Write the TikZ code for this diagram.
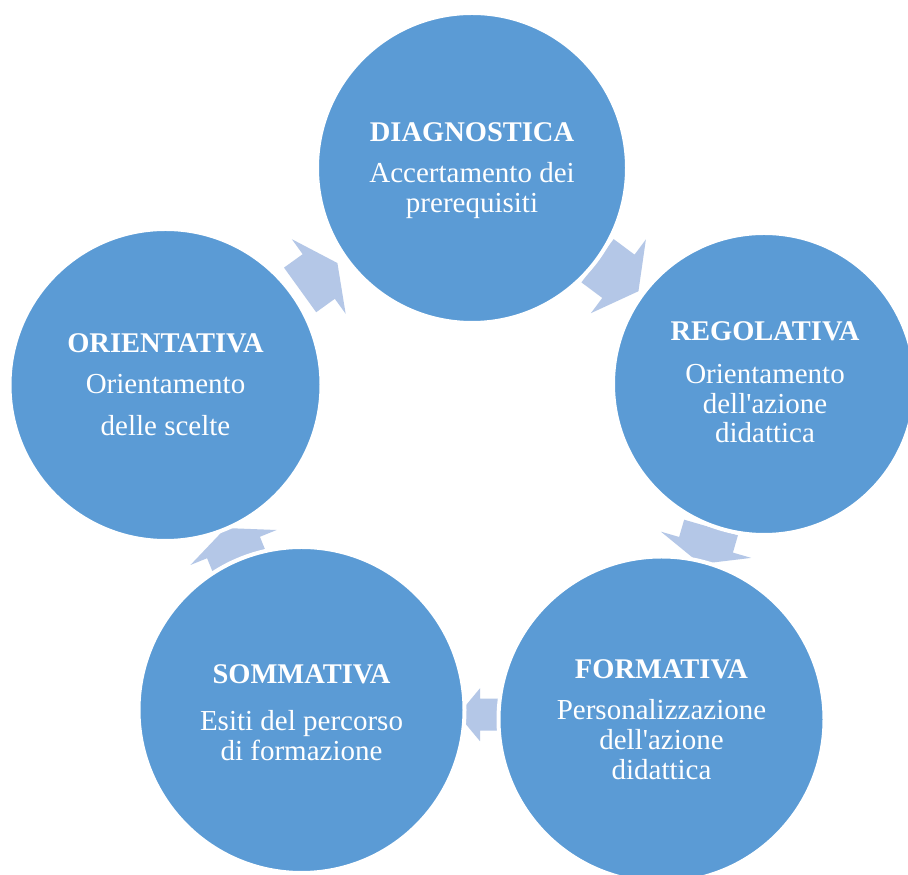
\documentclass[tikz,border=0pt]{standalone}
\usepackage{fontspec}
\setmainfont{Liberation Serif}[Ligatures=TeXOff]
\usetikzlibrary{calc}
\definecolor{bubblue}{HTML}{5B9BD5}
\definecolor{arrowblue}{HTML}{B4C7E7}
% #1 centre coordinate, #2 angle, #3 total length, #4 head length, #5 shaft width, #6 head width
\newcommand\blockarrow[6]{%
  \fill[arrowfill, shift={(#1)}, rotate=#2]
    (-#3/2,-#5/2) -- (#3/2-#4,-#5/2) -- (#3/2-#4,-#6/2) -- (#3/2,0) --
    (#3/2-#4,#6/2) -- (#3/2-#4,#5/2) -- (-#3/2,#5/2) -- cycle;}
\begin{document}
\begin{tikzpicture}[x=1pt,y=1pt,
  bub/.style={circle, fill=bubblue, draw=white, line width=4pt, inner sep=0pt},
  arrowfill/.style={fill=arrowblue},
  txt/.style={text=white, anchor=base, inner sep=0pt, font=\fontsize{29}{34}\selectfont},
  ttl/.style={txt, font=\fontsize{28.5}{34}\selectfont\bfseries}]
\clip (0,0) rectangle (908,875);
\fill[white] (0,0) rectangle (908,875);
% circle centres
\coordinate (cd) at (472,707);
\coordinate (cr) at (764,491);
\coordinate (cf) at (661.5,155.5);
\coordinate (cs) at (301.5,165);
\coordinate (co) at (165.5,490);
% arrows (behind circles)
\coordinate (a1) at ($(cd)!0.5!(cr)$);
\coordinate (a2) at ($($(cr)!0.5!(cf)$)+(-7,6)$);
\coordinate (a3) at ($(cf)!0.5!(cs)$);
\coordinate (a4) at ($(cs)!0.5!(co)$);
\coordinate (a5) at ($(co)!0.5!(cd)$);
\blockarrow{a1}{-36.7}{51}{25}{54}{92}
\blockarrow{a2}{-106.2}{38}{20}{56}{94}
\blockarrow{a3}{180}{47}{22}{32}{53}
\blockarrow{a4}{112.1}{42}{21}{57}{93}
\blockarrow{a5}{35.8}{46}{23}{55}{92}
% circles
\node[bub, minimum size=310pt] (d) at (cd) {};
\node[bub, minimum size=302pt] (r) at (cr) {};
\node[bub, minimum size=326pt] (f) at (cf) {};
\node[bub, minimum size=326pt] (s) at (cs) {};
\node[bub, minimum size=312pt] (o) at (co) {};
% texts
\node[ttl] (dT) at (472,733.3) {DIAGNOSTICA};
\node[txt] (d1) at (472,692.3) {Accertamento dei};
\node[txt] (d2) at (472,662.7) {prerequisiti};
\node[ttl] (rT) at (765,534.3) {REGOLATIVA};
\node[txt] (r1) at (765,491.7) {Orientamento};
\node[txt] (r2) at (765,461.7) {dell'azione};
\node[txt] (r3) at (765,432.7) {didattica};
\node[ttl] (fT) at (661.5,196.7) {FORMATIVA};
\node[txt] (f1) at (661.5,155) {Personalizzazione};
\node[txt] (f2) at (661.5,125) {dell'azione};
\node[txt] (f3) at (661.5,95) {didattica};
\node[ttl] (sT) at (301.5,191.7) {SOMMATIVA};
\node[txt] (s1) at (301.5,144) {Esiti del percorso};
\node[txt] (s2) at (301.5,114.3) {di formazione};
\node[ttl] (oT) at (165.5,522.3) {ORIENTATIVA};
\node[txt] (o1) at (165.5,481) {Orientamento};
\node[txt] (o2) at (165.5,439) {delle scelte};
\end{tikzpicture}
\end{document}
